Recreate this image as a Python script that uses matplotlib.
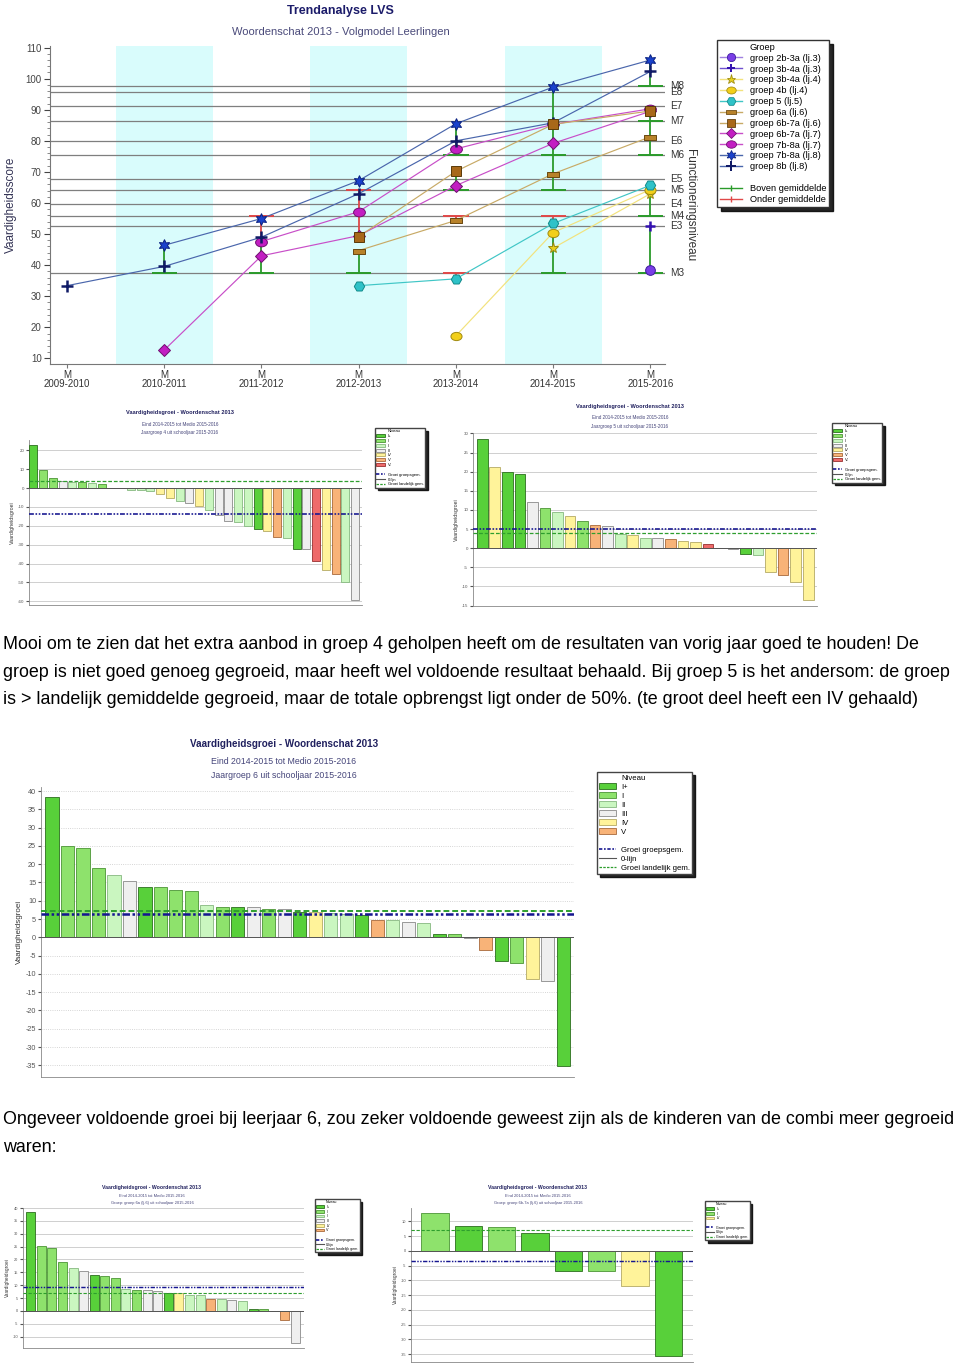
import numpy as np
import matplotlib
matplotlib.use('Agg')
import matplotlib.pyplot as plt
from matplotlib.patches import Patch
from matplotlib.lines import Line2D
from matplotlib.path import Path
from matplotlib.transforms import Affine2D
from matplotlib.ticker import MultipleLocator

plt.rcParams['font.family'] = ['Liberation Sans', 'DejaVu Sans']

# ---------------- data: trendanalyse ----------------
nan = np.nan
jaren = ['2009-2010', '2010-2011', '2011-2012', '2012-2013', '2013-2014', '2014-2015', '2015-2016']

score_2b3a_lj3 = [nan, nan, nan, nan, nan, nan, 38.5]
score_3b4a_lj3 = [nan, nan, nan, nan, nan, nan, 52.7]
score_3b4a_lj4 = [nan, nan, nan, nan, nan, 45.5, 63.0]
score_4b_lj4 = [nan, nan, nan, nan, 17.3, 50.5, 64.3]
score_5_lj5 = [nan, nan, nan, 33.4, 35.6, 53.4, 65.7]
score_6a_lj6 = [nan, nan, nan, 44.7, 54.4, 69.4, 81.3]
score_6b7a_lj6 = [nan, nan, nan, 49.2, 70.2, 85.3, 89.6]
score_6b7a_lj7 = [nan, 12.7, 43.0, 49.5, 65.6, 79.2, 89.5]
score_7b8a_lj7 = [nan, nan, 47.6, 57.2, 77.4, 85.3, 90.3]
score_7b8a_lj8 = [nan, 46.4, 55.0, 67.2, 85.5, 97.3, 106.0]
score_8b_lj8 = [33.4, 39.6, 49.0, 63.0, 80.0, 85.8, 102.3]

niveau_namen = ['M8', 'E8', 'E7', 'M7', 'E6', 'M6', 'E5', 'M5', 'E4', 'M4', 'E3', 'M3']
niveau_scores = [97.7, 95.8, 91.3, 86.5, 79.9, 75.3, 67.7, 64.1, 59.6, 55.9, 52.5, 37.4]

# boven/onder gemiddelde staafjes: jaar, van (niveau), tot (score), boven?
gem_jaar = [1, 2, 2, 3, 3, 4, 4, 4, 4, 5, 5, 5, 5, 6, 6, 6, 6, 6]
gem_van = [37.4, 37.4, 55.9, 64.1, 37.4, 75.3, 64.1, 55.9, 37.4, 75.3, 64.1, 55.9, 37.4, 97.7, 86.5, 75.3, 55.9, 37.4]
gem_tot = [46.4, 47.6, 47.6, 49.2, 44.7, 85.5, 70.2, 54.4, 35.6, 97.3, 75.3, 53.4, 50.5, 106.0, 90.3, 86.5, 65.7, 52.7]
gem_boven = [1, 1, 0, 0, 1, 1, 1, 0, 0, 1, 1, 0, 1, 1, 1, 1, 1, 1]

# ---------------- data: vaardigheidsgroei ----------------
groei_g4 = [23.0, 9.8, 5.3, 3.5, 3.3, 3.0, 2.5, 2.0, 0, 0, -0.8, -1.2, -1.8, -3.0, -5.5,
            -6.8, -8.0, -9.5, -11.5, -14.5, -17.2, -18.0, -20.0, -21.5, -23.0, -25.8,
            -26.5, -32.2, -32.2, -38.5, -43.5, -45.5, -50.0, -59.5]
niveau_g4 = ['I+', 'I', 'I', 'III', 'II', 'I', 'II', 'I', 'III', 'III', 'II', 'II', 'II', 'IV', 'IV',
             'II', 'III', 'IV', 'II', 'III', 'III', 'II', 'II', 'I+', 'IV', 'V',
             'II', 'I+', 'III', 'V-', 'IV', 'V', 'II', 'III']

groei_g5 = [28.5, 21.2, 19.8, 19.5, 12.2, 10.4, 9.4, 8.4, 7.1, 6.1, 5.9, 3.7, 3.4, 2.7,
            2.6, 2.3, 2.0, 1.7, 1.2, 0, -0.2, -1.5, -1.7, -6.1, -7.0, -8.7, -13.5]
niveau_g5 = ['I+', 'IV', 'I+', 'I+', 'III', 'I', 'II', 'IV', 'I', 'V', 'III', 'II', 'IV', 'II',
             'III', 'V', 'IV', 'IV', 'V-', 'III', 'III', 'I+', 'II', 'IV', 'V', 'IV', 'IV']

groei_g6 = [38.3, 25.1, 24.5, 19.0, 17.0, 15.4, 13.8, 13.7, 12.8, 12.7, 8.7, 8.4, 8.2, 8.2,
            7.8, 7.7, 7.0, 6.9, 6.6, 6.5, 6.1, 4.8, 4.6, 4.3, 4.0, 1.0, 0.9, -0.1,
            -3.4, -6.6, -6.9, -11.5, -12.0, -35.2]
niveau_g6 = ['I+', 'I', 'I', 'I', 'II', 'III', 'I+', 'I', 'I', 'I', 'II', 'I', 'I+', 'III',
             'I', 'III', 'I+', 'IV', 'II', 'II', 'I+', 'V', 'II', 'III', 'II', 'I+', 'I', 'III',
             'V', 'I+', 'I', 'IV', 'III', 'I+']

groei_g6a = [38.3, 25.1, 24.5, 18.9, 16.8, 15.4, 13.9, 13.6, 12.7, 8.5, 8.3, 8.2, 7.8,
             7.0, 6.9, 6.3, 6.1, 4.8, 4.5, 4.3, 3.9, 0.9, 0.8, -0.2, -3.5, -12.4]
niveau_g6a = ['I+', 'I', 'I', 'I', 'II', 'III', 'I+', 'I', 'I', 'II', 'I', 'III', 'III',
              'I+', 'IV', 'II', 'II', 'V', 'II', 'III', 'II', 'I+', 'I', 'III', 'V', 'III']

groei_g6b = [12.8, 8.3, 8.0, 6.0, -7.0, -7.0, -11.8, -35.7]
niveau_g6b = ['I', 'I+', 'I', 'I+', 'I+', 'I', 'IV', 'I+']

vul = {'I+': '#58d03a', 'I': '#8ee26c', 'II': '#caf6c0', 'III': '#efefef',
       'IV': '#fff39a', 'V': '#f8b378', 'V-': '#ee6a6a'}
rand = {'I+': '#2c6e1e', 'I': '#4c9436', 'II': '#86b880', 'III': '#8a8a8a',
        'IV': '#b4aa64', 'V': '#a86a3c', 'V-': '#983030'}

W, H = 960, 1363
fig = plt.figure(figsize=(9.6, 13.63), dpi=100)
fig.patch.set_facecolor('white')


def px_axes(x0, y0, x1, y1):
    return fig.add_axes([x0 / W, 1 - y1 / H, (x1 - x0) / W, (y1 - y0) / H])


def fx(x):
    return x / W


def fy(y):
    return 1 - y / H


# ================= trendanalyse =================
ax = px_axes(50, 46, 665, 364)
x = np.arange(len(jaren))
for a, b in [(0.5, 1.5), (2.5, 3.5), (4.5, 5.5)]:
    ax.axvspan(a, b, color='#d9fcfc', lw=0, zorder=0)
for s in niveau_scores:
    ax.axhline(s, color='#7f7f7f', lw=0.9, zorder=1)
# labels rechts (M8 en E8 vallen net als in het origineel over elkaar)
for naam, s in zip(niveau_namen, niveau_scores):
    ax.text(1.008, s, naam, transform=ax.get_yaxis_transform(), fontsize=7.2,
            va='center', ha='left', color='#333333', clip_on=False)

for j, v, t, b in zip(gem_jaar, gem_van, gem_tot, gem_boven):
    kl = '#2a9a2a' if b else '#e04848'
    ax.vlines(j, v, t, color=kl, lw=1.3, zorder=2)
    ax.hlines(v, j - 0.13, j + 0.13, color=kl, lw=1.4, zorder=2)

ellips = Affine2D().scale(1.35, 1.0).transform_path(Path.unit_circle())
balkje = Path([(-1, -0.45), (1, -0.45), (1, 0.45), (-1, 0.45), (-1, -0.45)],
              [Path.MOVETO, Path.LINETO, Path.LINETO, Path.LINETO, Path.CLOSEPOLY])

series = [
    ('groep 2b-3a (lj.3)', score_2b3a_lj3, '#a080e0', 'o', '#7a3ee6', '#3c1c9c', 7, 4),
    ('groep 3b-4a (lj.3)', score_3b4a_lj3, '#7050d0', '+', '#3412b0', '#3412b0', 7, 4),
    ('groep 3b-4a (lj.4)', score_3b4a_lj4, '#f2e27c', '*', '#e6cf1e', '#9c8a10', 8, 4),
    ('groep 4b (lj.4)', score_4b_lj4, '#f2e27c', ellips, '#f2cf1a', '#a08a10', 8, 4),
    ('groep 5 (lj.5)', score_5_lj5, '#40c6c6', 'H', '#2ec2c8', '#128a8a', 7.5, 4),
    ('groep 6a (lj.6)', score_6a_lj6, '#c8aa66', balkje, '#b8822a', '#6a4810', 8, 4),
    ('groep 6b-7a (lj.6)', score_6b7a_lj6, '#c8aa66', 's', '#a8681a', '#5a3a08', 7, 5),
    ('groep 6b-7a (lj.7)', score_6b7a_lj7, '#c84ec8', 'D', '#c21ec2', '#6e106e', 6, 4),
    ('groep 7b-8a (lj.7)', score_7b8a_lj7, '#c84ec8', ellips, '#c21ec2', '#6e106e', 8.5, 4),
    ('groep 7b-8a (lj.8)', score_7b8a_lj8, '#4a66ac', (6, 1, 0), '#1a42cc', '#0a2080', 8.5, 4),
    ('groep 8b (lj.8)', score_8b_lj8, '#4a66ac', '+', '#101a66', '#101a66', 8, 4),
]
handles = [Line2D([], [], color='none', label='Groep')]
for naam, y, lk, m, fc, ec, ms, zo in series:
    mew = 1.8 if m == '+' else 0.7
    ax.plot(x, y, color=lk, lw=0.85, marker=m, mfc=fc, mec=ec, ms=ms, mew=mew, zorder=zo)
    handles.append(Line2D([], [], color=lk, lw=1.0, marker=m, mfc=fc, mec=ec,
                          ms=ms * 0.85, mew=mew * 0.8, label=naam))
handles.append(Line2D([], [], color='none', label=' '))
handles.append(Line2D([], [], color='#2a9a2a', lw=1.0, marker='|', ms=4, label='Boven gemiddelde'))
handles.append(Line2D([], [], color='#e04848', lw=1.0, marker='|', ms=4, label='Onder gemiddelde'))

ax.set_xlim(-0.175, 6.15)
ax.set_ylim(8.2, 110.5)
ax.set_xticks(x)
ax.set_xticklabels(['M\n' + j for j in jaren], fontsize=7, color='#333333', linespacing=0.95)
ax.set_yticks(np.arange(10, 111, 10))
ax.yaxis.set_minor_locator(MultipleLocator(2))
ax.tick_params(axis='y', labelsize=7, colors='#444444', length=4, pad=2)
ax.tick_params(axis='y', which='minor', length=2, colors='#777777')
ax.tick_params(axis='x', length=3, pad=1, colors='#777777', labelcolor='#333333')
for kant in ['top', 'right']:
    ax.spines[kant].set_visible(False)
for kant in ['left', 'bottom']:
    ax.spines[kant].set_color('#777777')
ax.set_ylabel('Vaardigheidsscore', fontsize=8.5, color='#333355', labelpad=6)
ax.set_facecolor('none')

fig.text(fx(340), fy(11), 'Trendanalyse LVS', fontsize=9, fontweight='bold',
         color='#1c1c6a', ha='center', va='center')
fig.text(fx(341), fy(32), 'Woordenschat 2013 - Volgmodel Leerlingen', fontsize=8,
         color='#4a4a7a', ha='center', va='center')
fig.text(fx(690), fy(205), 'Functioneringsniveau', fontsize=8.5, rotation=-90,
         color='#333333', ha='center', va='center')

fig.legend(handles=handles, loc='upper left', bbox_to_anchor=(fx(717), fy(40)),
           bbox_transform=fig.transFigure, fontsize=6.7, frameon=True, fancybox=False,
           shadow={'color': 'black', 'alpha': 0.85, 'ox': 3, 'oy': -3},
           edgecolor='#333333', labelspacing=0.2, handlelength=2.4, handletextpad=0.8,
           borderpad=0.3, borderaxespad=0)


# ================= vaardigheidsgroei =================
def groeigrafiek(box, groei, niveau, xlim, ylim, ystap, groepsgem, landelijk,
                 fs, lw_gem, breedte=0.82, stippel=False):
    ax = px_axes(*box)
    xs = np.arange(len(groei))
    ax.bar(xs, groei, width=breedte, color=[vul[n] for n in niveau],
           edgecolor=[rand[n] for n in niveau], linewidth=0.6, zorder=3)
    ax.axhline(0, color='#555555', lw=0.7, zorder=4)
    ax.axhline(landelijk, color='#2e9e2e', lw=lw_gem, ls=(0, (3, 1.5)), zorder=5)
    ax.axhline(groepsgem, color='#161690', lw=lw_gem * 1.3, ls=(0, (3, 1, 1, 1, 1, 1)), zorder=5)
    ax.set_xlim(*xlim)
    ax.set_ylim(*ylim)
    ticks = np.arange(np.ceil(ylim[0] / ystap) * ystap, ylim[1] + 0.01, ystap)
    ax.set_yticks(ticks)
    ax.set_yticklabels(['%d' % t for t in ticks])
    ax.set_xticks([])
    ax.grid(axis='y', color='#c8c8c8', lw=0.6, ls=':' if stippel else '-', zorder=0)
    ax.tick_params(axis='y', labelsize=fs, colors='#555555', length=2, pad=1.5)
    for kant in ['top', 'right']:
        ax.spines[kant].set_visible(False)
    for kant in ['left', 'bottom']:
        ax.spines[kant].set_color('#888888')
        ax.spines[kant].set_linewidth(0.6)
    ax.set_ylabel('Vaardigheidsgroei', fontsize=fs + 0.6, color='#333333', labelpad=2)
    return ax


def kopjes(xc, y, titel, regel1, regel2, fs, dy):
    fig.text(fx(xc), fy(y), titel, fontsize=fs + 0.8, fontweight='bold',
             color='#20205e', ha='center', va='center')
    fig.text(fx(xc), fy(y + dy), regel1, fontsize=fs, color='#45457a', ha='center', va='center')
    fig.text(fx(xc), fy(y + 1.75 * dy), regel2, fontsize=fs, color='#45457a', ha='center', va='center')


def legenda(niveaus, x0, y0, fs):
    h = [Patch(facecolor='none', edgecolor='none', label='Niveau')]
    for n in niveaus:
        h.append(Patch(facecolor=vul[n], edgecolor=rand[n], lw=0.6, label=n))
    h.append(Line2D([], [], color='none', label=' '))
    h.append(Line2D([], [], color='#161690', lw=1.2, ls=(0, (2, 1, 1, 1)), label='Groei groepsgem.'))
    h.append(Line2D([], [], color='#555555', lw=0.8, label='0-lijn'))
    h.append(Line2D([], [], color='#2e9e2e', lw=0.9, ls=(0, (2, 1)), label='Groei landelijk gem.'))
    fig.legend(handles=h, loc='upper left', bbox_to_anchor=(fx(x0), fy(y0)),
               bbox_transform=fig.transFigure, fontsize=fs, frameon=True, fancybox=False,
               shadow={'color': 'black', 'alpha': 0.85, 'ox': 2, 'oy': -2},
               edgecolor='#444444', labelspacing=0.2, handlelength=2.2, handleheight=0.7,
               handletextpad=0.6, borderpad=0.3, borderaxespad=0)


titel = 'Vaardigheidsgroei - Woordenschat 2013'
periode = 'Eind 2014-2015 tot Medio 2015-2016'

# groep 4
groeigrafiek((29, 440, 362, 605), groei_g4, niveau_g4, (-0.45, 33.7), (-62, 25.5), 10,
             -14.0, 3.9, 3.2, 0.9)
kopjes(180, 413, titel, periode, 'Jaargroep 4 uit schooljaar 2015-2016', 3.3, 11)
legenda(['I+', 'I', 'II', 'III', 'IV', 'V', 'V-'], 375, 428, 3.0)

# groep 5
groeigrafiek((473, 433, 817, 606), groei_g5, niveau_g5, (-0.74, 26.7), (-15.1, 30.1), 5,
             4.9, 4.0, 3.2, 0.9, breedte=0.85)
kopjes(630, 407, titel, periode, 'Jaargroep 5 uit schooljaar 2015-2016', 3.3, 11)
legenda(['I+', 'I', 'II', 'III', 'IV', 'V', 'V-'], 832, 423, 3.0)

# groep 6 (groot)
groeigrafiek((41, 787, 574, 1077), groei_g6, niveau_g6, (-0.71, 33.7), (-38.2, 41.1), 5,
             6.4, 7.1, 5.2, 1.4, breedte=0.85, stippel=True)
kopjes(284, 744, titel, periode, 'Jaargroep 6 uit schooljaar 2015-2016', 6.3, 18)
legenda(['I+', 'I', 'II', 'III', 'IV', 'V'], 597, 772, 5.6)

# groep 6a
groeigrafiek((23, 1208, 304, 1348), groei_g6a, niveau_g6a, (-0.72, 25.8), (-14.4, 40), 5,
             9.2, 7.1, 2.8, 0.8, breedte=0.85)
kopjes(152, 1187, titel, periode, 'Groep: groep 6a (lj.6) uit schooljaar 2015-2016', 2.9, 9)
legenda(['I+', 'I', 'II', 'III', 'IV', 'V'], 315, 1199, 2.6)

# groep 6b-7a
groeigrafiek((411, 1208, 693, 1362), groei_g6b, niveau_g6b, (-0.72, 7.74), (-37.7, 14.5), 5,
             -3.4, 7.2, 2.8, 0.8)
kopjes(538, 1187, titel, periode, 'Groep: groep 6b-7a (lj.6) uit schooljaar 2015-2016', 2.9, 9)
legenda(['I+', 'I', 'IV'], 705, 1201, 2.6)

# ================= tekst =================
alinea1 = ['Mooi om te zien dat het extra aanbod in groep 4 geholpen heeft om de resultaten van vorig jaar goed te houden! De',
           'groep is niet goed genoeg gegroeid, maar heeft wel voldoende resultaat behaald. Bij groep 5 is het andersom: de groep',
           'is > landelijk gemiddelde gegroeid, maar de totale opbrengst ligt onder de 50%. (te groot deel heeft een IV gehaald)']
alinea2 = ['Ongeveer voldoende groei bij leerjaar 6, zou zeker voldoende geweest zijn als de kinderen van de combi meer gegroeid',
           'waren:']
for i, regel in enumerate(alinea1):
    fig.text(fx(3), fy(645 + 27.3 * i), regel, fontsize=12.85, family='Liberation Sans',
             color='black', ha='left', va='center')
for i, regel in enumerate(alinea2):
    fig.text(fx(3), fy(1119 + 28 * i), regel, fontsize=12.85, family='Liberation Sans',
             color='black', ha='left', va='center')

fig.savefig('out.png', dpi=100, facecolor='white')
